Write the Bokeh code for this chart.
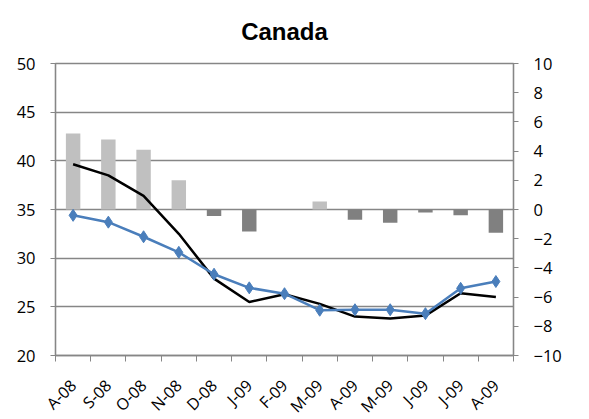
import math
from bokeh.plotting import figure
from bokeh.models import Range1d, LinearAxis, FixedTicker, ColumnDataSource
from bokeh.embed import file_html
from bokeh.resources import INLINE

# Monthly categories, Aug 2008 - Aug 2009
months = ["A-08", "S-08", "O-08", "N-08", "D-08", "J-09", "F-09",
          "M-09", "A-09", "M-09", "J-09", "J-09", "A-09"]

# Left-axis series
blue_series = [34.4, 33.7, 32.2, 30.6, 28.35, 26.95, 26.35,
               24.65, 24.7, 24.7, 24.3, 26.9, 27.6]
black_series = [39.65, 38.5, 36.4, 32.5, 27.9, 25.5, 26.3,
                25.3, 24.0, 23.8, 24.1, 26.4, 26.0]

# Right-axis bars
bar_values = [5.2, 4.8, 4.1, 2.0, -0.45, -1.5, 0.0,
              0.55, -0.7, -0.9, -0.2, -0.4, -1.6]

left_ticks = [20, 25, 30, 35, 40, 45, 50]
right_ticks = [-10, -8, -6, -4, -2, 0, 2, 4, 6, 8, 10]

FONT = "Open Sans"
FONT_SIZE = "16.5px"
AXIS_GREY = "#868686"

xs = [i + 0.5 for i in range(len(months))]
bar_colors = ["#C0C0C0" if v >= 0 else "#808080" for v in bar_values]

src = ColumnDataSource(dict(x=xs, blue=blue_series, black=black_series,
                            bar=bar_values, color=bar_colors))

p = figure(frame_width=458, frame_height=292,
           x_range=Range1d(0, len(months)), y_range=Range1d(20, 50),
           output_backend="svg", toolbar_location=None,
           min_border_left=55, min_border_right=76,
           min_border_top=63, min_border_bottom=64)

p.title.text = "Canada"
p.title.align = "center"
p.title.vertical_align = "top"
p.title.text_font = "Liberation Sans"
p.title.text_font_style = "bold"
p.title.text_font_size = "24px"
p.title.text_color = "#000000"
p.title.standoff = 33

# Frame border doubles as the top gridline at 50
p.outline_line_color = AXIS_GREY
p.outline_line_width = 1.3
p.background_fill_color = "white"
p.border_fill_color = "white"

# Horizontal gridlines on the left-axis ticks only
p.xgrid.visible = False
p.ygrid.ticker = FixedTicker(ticks=left_ticks)
p.ygrid.grid_line_color = AXIS_GREY
p.ygrid.grid_line_width = 1.3

# Secondary range for the bars
p.extra_y_ranges = {"right": Range1d(-10, 10)}

p.vbar(x="x", top="bar", bottom=0, width=0.41, fill_color="color",
       line_color=None, source=src, y_range_name="right")

p.line("x", "black", source=src, line_color="#000000", line_width=2.5)

p.line("x", "blue", source=src, line_color="#4A7EBB", line_width=2.5)
p.scatter("x", "blue", source=src, marker="diamond", size=12,
          fill_color="#4A7EBB", line_color="#4A7EBB")

# Left axis
ly = p.yaxis[0]
ly.ticker = FixedTicker(ticks=left_ticks, minor_ticks=[])
ly.axis_line_color = AXIS_GREY
ly.axis_line_width = 1.3
ly.major_tick_line_color = AXIS_GREY
ly.major_tick_out = 5
ly.major_tick_in = 0
ly.minor_tick_line_color = None
ly.major_label_standoff = 15
ly.major_label_text_font = FONT
ly.major_label_text_font_size = FONT_SIZE
ly.major_label_text_color = "#000000"

# Right axis
ry = LinearAxis(y_range_name="right",
                ticker=FixedTicker(ticks=right_ticks, minor_ticks=[]))
ry.axis_line_color = AXIS_GREY
ry.axis_line_width = 1.3
ry.major_tick_line_color = AXIS_GREY
ry.major_tick_out = 5
ry.major_tick_in = 0
ry.minor_tick_line_color = None
ry.major_label_standoff = 15
ry.major_label_text_font = FONT
ry.major_label_text_font_size = FONT_SIZE
ry.major_label_text_color = "#000000"
p.add_layout(ry, "right")

# Category axis: labels at centres, tick marks at boundaries
bx = p.xaxis[0]
bx.ticker = FixedTicker(ticks=xs, minor_ticks=list(range(len(months) + 1)))
bx.major_label_overrides = {x: m for x, m in zip(xs, months)}
bx.major_label_orientation = math.pi / 4
bx.axis_line_color = AXIS_GREY
bx.axis_line_width = 1.3
bx.major_tick_line_color = None
bx.major_tick_out = 0
bx.major_tick_in = 0
bx.minor_tick_line_color = AXIS_GREY
bx.minor_tick_out = 6
bx.minor_tick_in = 0
bx.major_label_standoff = 21
bx.major_label_text_font = FONT
bx.major_label_text_font_size = "16px"
bx.major_label_text_color = "#000000"

open("out.html", "w").write(file_html(p, INLINE))
